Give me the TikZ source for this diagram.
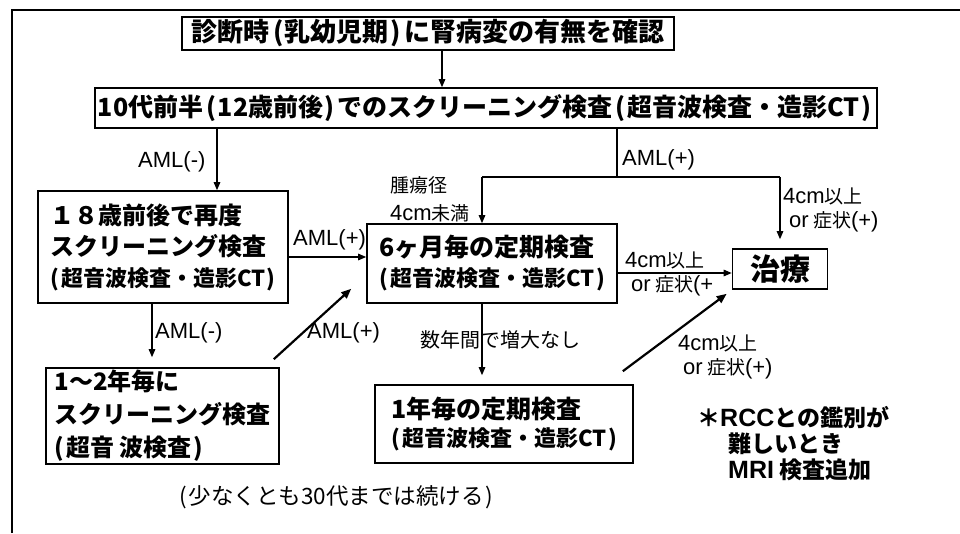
\documentclass[tikz,border=0pt]{standalone}
\usepackage{fontspec}
\setmainfont{Noto Sans CJK JP}
\newfontfamily\lat{Liberation Sans}
\usetikzlibrary{arrows.meta,calc}
\newcommand\la[1]{{\fontsize{22}{22}\selectfont\lat #1}}
\newcommand\lab[1]{{\fontsize{25}{25}\selectfont\lat\bfseries #1}}
\newcommand\lp{\hspace{0.12em}(\hspace{0.06em}}
\newcommand\rp{\hspace{0.06em})\hspace{0.12em}}
\tikzset{
  box/.style={draw, line width=1.6pt, inner sep=2pt, align=left},
  conn/.style={line width=1.2pt},
  arr/.style={conn, -{Triangle[length=8pt,width=6.5pt]}},
  darr/.style={line width=2.2pt, -{Triangle[length=10pt,width=8pt]}},
  lbl/.style={inner sep=0pt, anchor=west, align=left, font=\fontsize{19}{24}\selectfont},
}
\begin{document}
\begin{tikzpicture}[x=1pt,y=-1pt]
\useasboundingbox[fill=white] (0,0) rectangle (960,533);
% outer frame
\draw[line width=2.5pt] (12,533) -- (12,10) -- (960,10);

% boxes
\node[box, minimum width=492pt, minimum height=33pt, font=\bfseries\fontsize{26}{26}\selectfont] (top) at (428,33.5) {診断時\lp 乳幼児期\rp に腎病変の有無を確認};
\node[box, minimum width=782pt, minimum height=40pt, font=\bfseries\fontsize{25}{25}\selectfont] (scr) at (486,108) {10代前半\lp 12歳前後\rp でのスクリーニング検査\lp 超音波検査・造影CT\rp};
\node[box, minimum width=250pt, minimum height=112pt, font=\bfseries\fontsize{24}{31}\selectfont] (b18) at (163,247) {１８歳前後で再度\\スクリーニング検査\\\fontsize{22}{31}\selectfont(\hspace{0.1em}超音波検査・造影CT\rp};
\node[box, minimum width=250pt, minimum height=79pt, font=\bfseries\fontsize{25}{30}\selectfont] (b6m) at (492,263.5) {6ヶ月毎の定期検査\\\fontsize{22}{30}\selectfont(\hspace{0.1em}超音波検査・造影CT\rp};
\node[box, minimum width=95pt, minimum height=40pt, font=\bfseries\fontsize{30}{30}\selectfont, align=center] (cure) at (780,269) {治療};
\node[box, minimum width=233pt, minimum height=96pt, font=\bfseries\fontsize{24}{33}\selectfont] (b12) at (162.5,416) {1～2年毎に\\スクリーニング検査\\(\hspace{0.1em}超音 波検査\rp};
\node[box, minimum width=258pt, minimum height=78pt, font=\bfseries\fontsize{25}{28}\selectfont] (b1y) at (504,424) {1年毎の定期検査\\\fontsize{22}{28}\selectfont(\hspace{0.1em}超音波検査・造影CT\rp};

% helper coordinates
\coordinate (cA) at (442,0);
\coordinate (cB) at (217,0);
\coordinate (cC) at (152,0);
\coordinate (jT) at (617,177);
\coordinate (jL) at (482,177);
\coordinate (jR) at (780,177);
\coordinate (yH) at (0,257);
\coordinate (yC) at (0,273);

% connectors
\draw[arr] (top.south -| cA) -- (scr.north -| cA);
\draw[arr] (scr.south -| cB) -- (b18.north -| cB);
\draw[conn] (scr.south -| jT) -- (jT);
\draw[conn] (jL) -- (jR);
\draw[arr] (jL) -- (b6m.north -| jL);
\draw[arr] (jR) -- ([yshift=9pt]cure.north);
\draw[arr] (b18.east |- yH) -- (b6m.west |- yH);
\draw[arr] (b6m.east |- yC) -- (cure.west |- yC);
\draw[arr] (b18.south -| cC) -- ($(b12.north -| cC)+(0,-10)$);
\draw[arr] (b6m.south -| jL) -- ($(b1y.north -| jL)+(0,-9)$);
\draw[darr] ($(b12.north east)+(-6,-8)$) -- ($(b6m.south west)+(-15,-15)$);
\draw[darr] ($(b1y.north east)+(-11,-13)$) -- ($(cure.south west)+(-5,4)$);

% labels
\node[lbl] (lneg1) at (138,162) {\la{AML(-)}};
\node[lbl] (lpos1) at (622,160) {\la{AML(+)}};
\node[lbl] (lsize) at (390,199) {腫瘍径\\[4pt]\la{4cm}未満};
\node[lbl] (lbig1) at (783,210) {\la{4cm}以上\\\hspace*{6pt}\la{or} 症状\la{(+)}};
\node[lbl] (lpos2) at (293,240) {\la{AML(+)}};
\node[lbl] (lbig2) at (625,273.5) {\la{4cm}以上\\\hspace*{6pt}\la{or} 症状\la{(+}};
\node[lbl] (lneg2) at (155,333) {\la{AML(-)}};
\node[lbl] (lpos3) at (307,333) {\la{AML(+)}};
\node[lbl, font=\fontsize{20}{24}\selectfont] (lstable) at (420,340) {数年間で増大なし};
\node[lbl] (lbig3) at (678,356.5) {\la{4cm}以上\\\hspace*{5pt}\la{or} 症状\la{(+)}};

% notes
\node[lbl, font=\bfseries\fontsize{23}{26}\selectfont] (note) at (697,444) {＊\lab{RCC}との鑑別が\\\hspace*{31pt}難しいとき\\\hspace*{31pt}\lab{MRI} 検査追加};
\node[inner sep=0pt, font=\fontsize{22.5}{24}\selectfont] (cont) at (336,497) {(\hspace{0.1em}少なくとも30代までは続ける\rp};
\end{tikzpicture}
\end{document}
